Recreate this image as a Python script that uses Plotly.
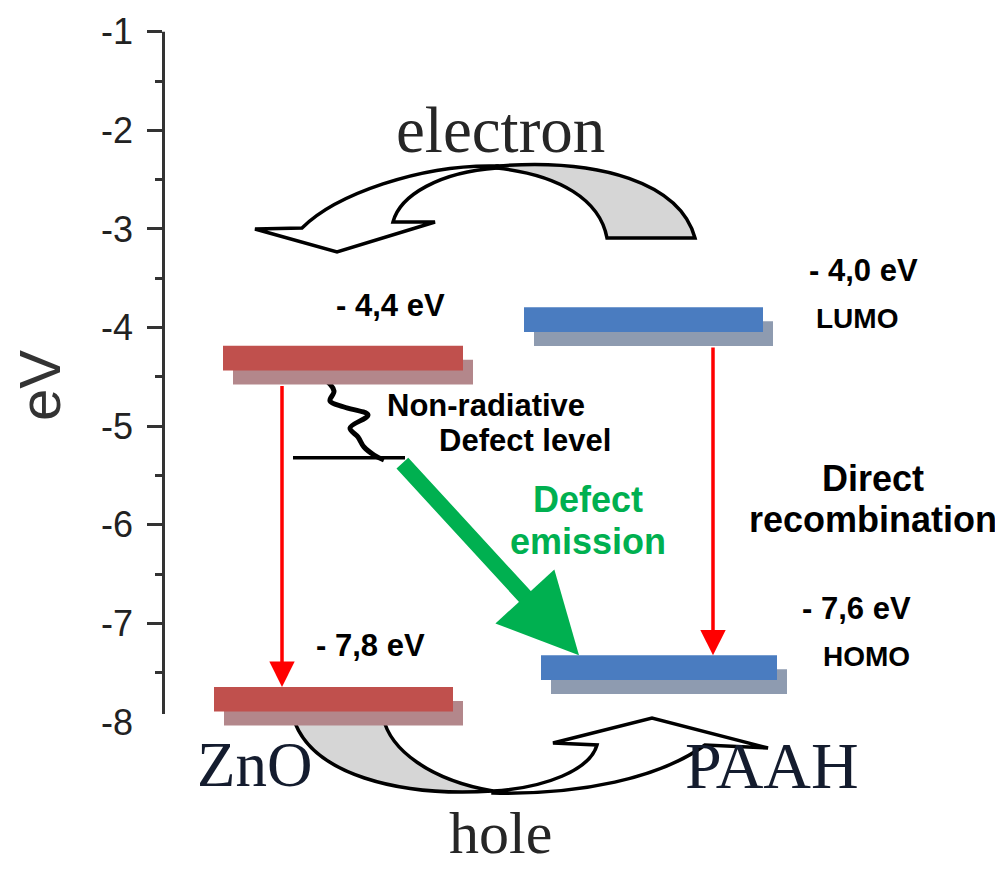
import plotly.graph_objects as go

# niveles de energía (posición dibujada, en eV)
level_name = ["ZnO_CB", "ZnO_VB", "PAAH_LUMO", "PAAH_HOMO"]
level_ev = [-4.31, -7.77, -3.92, -7.45]
level_x0 = [223, 214, 524, 541]
level_x1 = [463, 453, 763, 777]
level_color = ["#c0504d", "#c0504d", "#4a7cc0", "#4a7cc0"]
shadow_color = ["#b3878b", "#b3878b", "#8e9bb0", "#8e9bb0"]
level_label = ["- 4,4 eV", "- 7,8 eV", "- 4,0 eV", "- 7,6 eV"]
level_label_x = [390, 370, 863, 856]
level_label_y = [305, 645, 270, 608]

orbital_label = ["LUMO", "HOMO"]
orbital_x = [857, 866]
orbital_y = [318, 656]

defect_ev = -5.32
defect_x = [293, 405]

tick_vals = [-1, -2, -3, -4, -5, -6, -7, -8]
tick_text = ["-1", "-2", "-3", "-4", "-5", "-6", "-7", "-8"]
minor_vals = [-1.5, -2.5, -3.5, -4.5, -5.5, -6.5, -7.5]

# línea ondulada (no radiativa), en px
wave_x = [312, 324, 334, 330, 344, 368, 350, 358, 364, 374, 384]
wave_y = [376, 379, 391, 401, 407, 415, 428, 437, 447, 455, 460]

# la página deja 8 px de margen (body), se compensa aquí
OFF = 8
W, H = 1003 - OFF, 869 - OFF
PX_PER_EV = 98.6
EV_TOP = -1 + (31.7 - OFF) / PX_PER_EV
EV_BOT = -1 - (869 - 31.7) / PX_PER_EV
Y_RANGE = [EV_BOT, EV_TOP]
AXIS_X = 163
bar_h = 0.25
sh_dx, sh_dy = 10, 0.142
SANS = "Liberation Sans, Arial, sans-serif"
SERIF = "Liberation Serif, Times New Roman, serif"

fig = go.Figure()

fig.add_trace(go.Scatter(x=[None], y=[None], yaxis="y2", showlegend=False, hoverinfo="skip"))

# ola no radiativa
fig.add_trace(go.Scatter(x=wave_x, y=wave_y, yaxis="y3", mode="lines",
                         line=dict(color="black", width=5, shape="spline", smoothing=1.0),
                         showlegend=False, hoverinfo="skip"))

shapes = []
# eje vertical
shapes.append(dict(type="line", xref="x", yref="y", x0=AXIS_X + 0.5, x1=AXIS_X + 0.5, y0=-1, y1=-7.92,
                   line=dict(color="#333", width=3)))

# flechas curvas (electron / hole), en px
grey = "#d6d6d6"
electron_grey = "M 497,166 C 600,158 680,183 695,238 L 607,238 C 600,200 560,175 497,168 Z"
electron_white = ("M 497,166 C 420,164 335,195 302,228 L 255,229 L 337,252 L 435,222 L 393,222 "
                  "C 400,195 440,172 497,168 Z")
hole_grey = "M 293,717 L 383,717 C 390,750 430,780 493,791 C 400,797 310,775 293,717 Z"
hole_white = ("M 493,793 C 580,795 660,778 705,745 L 768,748 L 652,718 L 553,743 L 597,745 "
              "C 590,770 545,788 493,791 Z")
for p, c in [(electron_grey, grey), (electron_white, "white"), (hole_grey, grey), (hole_white, "white")]:
    shapes.append(dict(type="path", xref="x", yref="y3", path=p, fillcolor=c,
                       line=dict(color="black", width=3.5), layer="above"))

# niveles con sombra
for i in range(len(level_ev)):
    shapes.append(dict(type="rect", xref="x", yref="y", layer="above",
                       x0=level_x0[i] + sh_dx, x1=level_x1[i] + sh_dx,
                       y0=level_ev[i] - sh_dy - bar_h / 2, y1=level_ev[i] - sh_dy + bar_h / 2,
                       fillcolor=shadow_color[i], line=dict(width=0)))
for i in range(len(level_ev)):
    shapes.append(dict(type="rect", xref="x", yref="y", layer="above",
                       x0=level_x0[i], x1=level_x1[i],
                       y0=level_ev[i] - bar_h / 2, y1=level_ev[i] + bar_h / 2,
                       fillcolor=level_color[i], line=dict(width=0)))

# nivel de defecto
shapes.append(dict(type="line", xref="x", yref="y", layer="above", x0=defect_x[0], x1=defect_x[1],
                   y0=defect_ev, y1=defect_ev, line=dict(color="black", width=3.5)))

ann = []
# flechas rojas (recombinación directa)
for x, top, bot in [(282, 0, 1), (713, 2, 3)]:
    ann.append(dict(x=x, y=level_ev[bot] + bar_h / 2, ax=x, ay=level_ev[top] - bar_h / 2 - sh_dy,
                    xref="x", yref="y", axref="x", ayref="y", showarrow=True, text="",
                    arrowhead=2, arrowsize=1.45, arrowwidth=3.5, arrowcolor="#ff0000"))
# flecha verde
ann.append(dict(x=579, y=level_ev[3] + bar_h / 2, ax=401, ay=defect_ev - 0.04,
                xref="x", yref="y", axref="x", ayref="y", showarrow=True, text="",
                arrowhead=2, arrowsize=1.0, arrowwidth=16, arrowcolor="#00b050"))


def txt(s, x, y, size, color="black", family=SANS, bold=False, angle=0, yanchor="middle"):
    if bold:
        s = "<b>" + s + "</b>"
    return dict(text=s, x=x, y=y, xref="x", yref="y3", showarrow=False, textangle=angle,
                font=dict(family=family, size=size, color=color), xanchor="center", yanchor=yanchor)


for i in range(len(level_label)):
    ann.append(txt(level_label[i], level_label_x[i], level_label_y[i], 31, bold=True))
for i in range(len(orbital_label)):
    ann.append(txt(orbital_label[i], orbital_x[i], orbital_y[i], 28, bold=True))

ann.append(txt("Non-radiative", 486, 405, 31, bold=True))
ann.append(txt("Defect level", 525, 440, 31, bold=True))
ann.append(txt("Defect", 588, 499, 36, color="#00b050", bold=True))
ann.append(txt("emission", 588, 541, 36, color="#00b050", bold=True))
ann.append(txt("Direct", 873, 478, 36, bold=True))
ann.append(txt("recombination", 873, 519, 36, bold=True))
ann.append(txt("electron", 500, 130, 65, color="#262626", family=SERIF))
ann.append(txt("hole", 500, 868, 60, color="#262626", family=SERIF, yanchor="bottom"))
ann.append(txt("ZnO", 254, 765, 63, color="#141c2e", family=SERIF))
ann.append(txt("PAAH", 772, 765, 66, color="#141c2e", family=SERIF))
ann.append(txt("eV", 39, 386, 58, color="#333", family="Arial, Liberation Sans, sans-serif", angle=-90))

fig.update_layout(
    width=W, height=H,
    margin=dict(l=0, r=0, t=0, b=0),
    paper_bgcolor="white", plot_bgcolor="white",
    showlegend=False,
    xaxis=dict(range=[OFF, 1003], visible=False, fixedrange=True),
    yaxis=dict(range=Y_RANGE, anchor="free", position=(AXIS_X - OFF) / W, side="left",
               tickvals=tick_vals, ticktext=tick_text, ticks="", showline=False,
               showgrid=False, zeroline=False, ticklabelstandoff=30,
               tickfont=dict(family=SANS, size=36, color="#222")),
    yaxis2=dict(range=Y_RANGE, overlaying="y", anchor="free", position=(AXIS_X - 1 - OFF) / W,
                side="left", tickvals=tick_vals[:-1], showticklabels=False, ticks="outside",
                ticklen=15, tickwidth=3, tickcolor="#333", showline=False, showgrid=False,
                zeroline=False,
                minor=dict(tickvals=minor_vals, ticks="outside", ticklen=7, tickwidth=3,
                           tickcolor="#333", showgrid=False)),
    yaxis3=dict(range=[869, OFF], overlaying="y", visible=False),
    shapes=shapes,
    annotations=ann,
)

fig.write_html("out.html")
